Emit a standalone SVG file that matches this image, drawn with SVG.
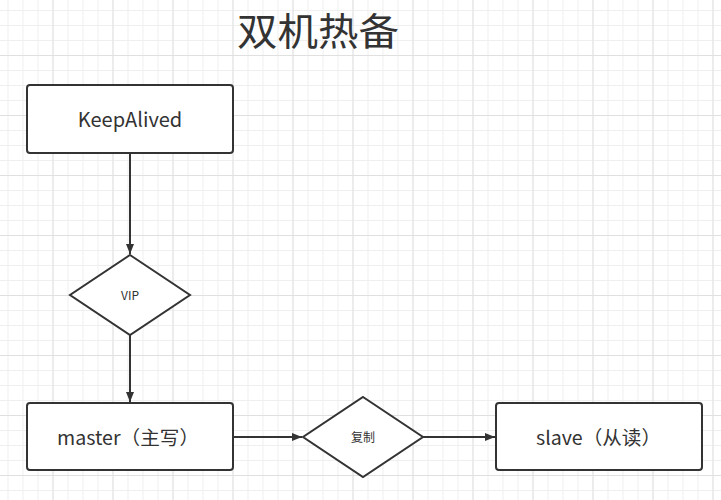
<svg xmlns="http://www.w3.org/2000/svg" width="721" height="500" viewBox="0 0 721 500">
<defs>
<pattern id="minor" x="7.5" y="10" width="15" height="15" patternUnits="userSpaceOnUse">
<path d="M0 0.5H15M0.5 0V15" fill="none" stroke="#efefef" stroke-width="1"/>
</pattern>
<pattern id="major" x="52.5" y="55" width="60" height="60" patternUnits="userSpaceOnUse">
<path d="M0 0.5H60M0.5 0V60" fill="none" stroke="#e0e0e0" stroke-width="1"/>
</pattern>
<marker id="arr" viewBox="0 0 10 8" refX="10" refY="4" markerWidth="10" markerHeight="8" markerUnits="userSpaceOnUse" orient="auto">
<path d="M0 0L10 4L0 8Z" fill="#333"/>
</marker>
</defs>
<style>
.box{fill:#fff;stroke:#333;stroke-width:2}
.edge{fill:none;stroke:#333;stroke-width:2;marker-end:url(#arr)}
.t{font-family:"Noto Sans CJK SC","Microsoft YaHei",sans-serif;fill:#333;text-anchor:middle}
.s{font-family:"Noto Sans CJK SC","Microsoft YaHei",sans-serif;fill:#333}
</style>
<rect width="721" height="500" fill="#fff"/>
<rect width="721" height="500" fill="url(#minor)"/>
<rect width="721" height="500" fill="url(#major)"/>
<text class="t" x="318" y="45" font-size="38" textLength="162" lengthAdjust="spacingAndGlyphs">双机热备</text>
<g id="connectors">
<path class="edge" d="M130 153V254"/>
<path class="edge" d="M130 335V402"/>
<path class="edge" d="M233 437H302"/>
<path class="edge" d="M423 437H495"/>
</g>
<g id="keepalived">
<rect class="box" x="27" y="85" width="206" height="68" rx="3"/>
<text class="t" x="130" y="127" font-size="20">KeepAlived</text>
</g>
<g id="vip">
<path class="box" d="M130 255L190 295L130 335L70 295Z"/>
<text class="t" x="130" y="300" font-size="12">VIP</text>
</g>
<g id="master">
<rect class="box" x="27" y="403" width="206" height="67" rx="3"/>
<text class="s" x="57" y="445" font-size="19" textLength="142" lengthAdjust="spacingAndGlyphs">master（主写）</text>
</g>
<g id="copy">
<path class="box" d="M363 397L423 437L363 477L303 437Z"/>
<text class="t" x="363" y="442" font-size="12">复制</text>
</g>
<g id="slave">
<rect class="box" x="496" y="403" width="206" height="67" rx="3"/>
<text class="s" x="536" y="445" font-size="19" textLength="125" lengthAdjust="spacingAndGlyphs">slave（从读）</text>
</g>
</svg>
